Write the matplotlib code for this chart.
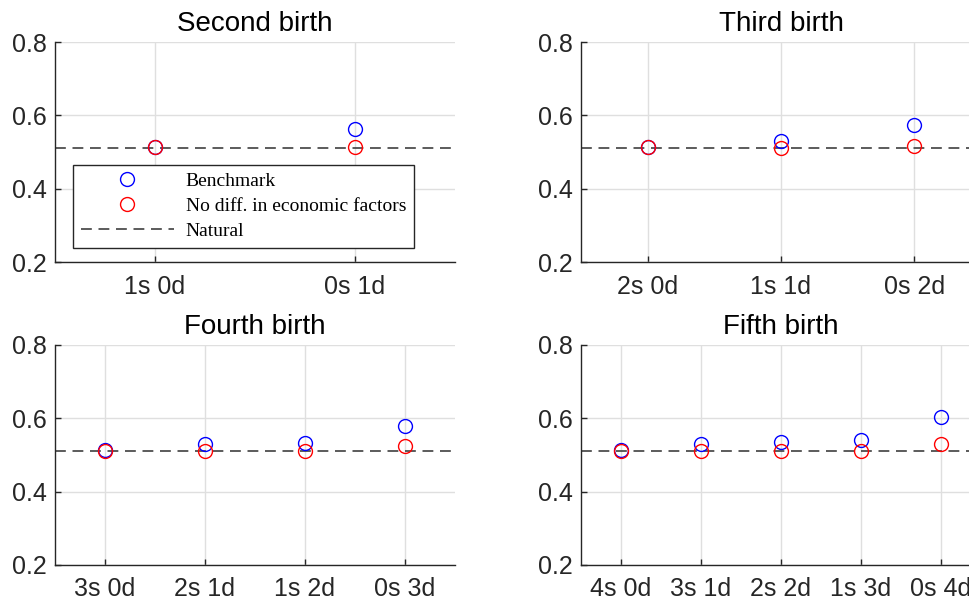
import matplotlib
matplotlib.use("Agg")
import matplotlib.pyplot as plt

plt.rcParams["font.family"] = ["Liberation Sans", "DejaVu Sans"]

# sex ratio at the next birth, by sex composition of earlier children
natural = 0.512

titles = ["Second birth", "Third birth", "Fourth birth", "Fifth birth"]
labels = [
    ["1s 0d", "0s 1d"],
    ["2s 0d", "1s 1d", "0s 2d"],
    ["3s 0d", "2s 1d", "1s 2d", "0s 3d"],
    ["4s 0d", "3s 1d", "2s 2d", "1s 3d", "0s 4d"],
]
benchmark = [
    [0.513, 0.562],
    [0.513, 0.531, 0.573],
    [0.513, 0.530, 0.534, 0.580],
    [0.513, 0.530, 0.535, 0.540, 0.605],
]
no_diff = [
    [0.513, 0.513],
    [0.513, 0.512, 0.516],
    [0.512, 0.511, 0.511, 0.525],
    [0.512, 0.511, 0.511, 0.512, 0.529],
]

fig = plt.figure(figsize=(9.7, 6.05), dpi=100)

W, H = 970, 605
boxes = [(55, 42), (581, 42), (55, 345), (581, 345)]
axw, axh = 400, 220

spine_col = "#262626"
for k, (x0, y0) in enumerate(boxes):
    ax = fig.add_axes([x0 / W, 1 - (y0 + axh) / H, axw / W, axh / H])
    n = len(labels[k])
    xs = list(range(1, n + 1))

    ax.grid(True, color="#dfdfdf", linewidth=1.0, zorder=0)
    ax.set_axisbelow(True)
    nat, = ax.plot([0.5, n + 0.5], [natural, natural], color="#404040",
                   linewidth=1.2, linestyle=(0, (6.5, 4.0)), zorder=2,
                   label="Natural")
    b, = ax.plot(xs, benchmark[k], linestyle="none", marker="o", markersize=10,
                 markerfacecolor="none", markeredgecolor="blue",
                 markeredgewidth=1.0, zorder=3, label="Benchmark")
    r, = ax.plot(xs, no_diff[k], linestyle="none", marker="o", markersize=10,
                 markerfacecolor="none", markeredgecolor="red",
                 markeredgewidth=1.0, zorder=4,
                 label="No diff. in economic factors")

    ax.set_xlim(0.5, n + 0.5)
    ax.set_ylim(0.2, 0.8)
    ax.set_xticks(xs)
    ax.set_xticklabels(labels[k])
    ax.set_yticks([0.2, 0.4, 0.6, 0.8])
    ax.set_yticklabels(["0.2", "0.4", "0.6", "0.8"])
    ax.tick_params(direction="in", length=4, width=1.0, colors=spine_col,
                   labelsize=18, labelcolor=spine_col, pad=6)
    ax.tick_params(axis="x", pad=9)
    for side in ("top", "right"):
        ax.spines[side].set_visible(False)
    for side in ("left", "bottom"):
        ax.spines[side].set_color(spine_col)
        ax.spines[side].set_linewidth(1.0)
    ax.set_title(titles[k], fontsize=20, pad=8)

    if k == 0:
        leg = ax.legend(handles=[b, r, nat], loc="lower left",
                        bbox_to_anchor=(0.045, 0.064),
                        prop={"family": "Liberation Serif", "size": 14},
                        handlelength=4.8, handletextpad=0.6, borderpad=0.4,
                        labelspacing=0.38, borderaxespad=0, fancybox=False,
                        framealpha=1, edgecolor=spine_col)
        leg.get_frame().set_linewidth(1.0)
        leg.set_zorder(5)

fig.savefig("out.png", dpi=100)
